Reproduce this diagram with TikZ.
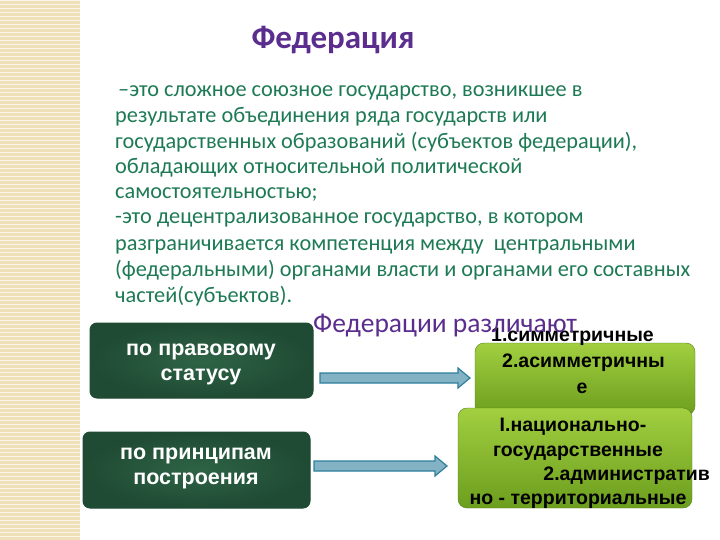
\documentclass[tikz,border=0pt]{standalone}
\usepackage{fontspec}
\setmainfont{Carlito}
\newfontfamily\arialf{Liberation Sans}
\usetikzlibrary{shapes.arrows}
\definecolor{ttl}{HTML}{5B2D8E}
\definecolor{bodyg}{HTML}{1E7A55}
\definecolor{dkg}{HTML}{1F4A33}
\definecolor{dkg2}{HTML}{2E6446}
\definecolor{lg1}{HTML}{A2CF40}
\definecolor{lg2}{HTML}{6C9E1E}
\definecolor{arr}{HTML}{2F7E9C}
\definecolor{strip}{HTML}{EFE0B8}
\tikzset{
 bodyline/.style={anchor=base west,text=bodyg,font=\fontsize{22.3}{24}\selectfont,inner sep=0},
 darkbox/.style={draw=dkg,rounded corners=7pt,inner color=dkg2,outer color=dkg,line width=1pt},
 lightbox/.style={rounded corners=9pt,top color=lg1,bottom color=lg2,draw=lg2!80!black},
 boxtext/.style={font=\arialf\bfseries\fontsize{21.5}{25}\selectfont,align=center},
 rtext/.style={text=black,font=\arialf\bfseries\fontsize{19.5}{22}\selectfont,inner sep=0}
}
\begin{document}
\begin{tikzpicture}[x=1pt,y=-1pt]
\useasboundingbox (0,0) rectangle (720,540);
\fill[white] (0,0) rectangle (720,540);
\fill[strip] (0,0) rectangle (80,540);
\foreach \yy in {0,4,...,540}{\draw[white,line width=0.6pt,opacity=0.7] (0,\yy) -- (80,\yy);}
\node[text=ttl,font=\bfseries\fontsize{33}{36}\selectfont] (title) at (333,40) {Федерация};
\node[bodyline] (l1) at (118,97) {–это сложное союзное государство, возникшее в};
\node[bodyline] (l2) at (115,123) {результате объединения ряда государств или};
\node[bodyline] (l3) at (115,149) {государственных образований (субъектов федерации),};
\node[bodyline] (l4) at (115,174) {обладающих относительной политической};
\node[bodyline] (l5) at (115,199) {самостоятельностью;};
\node[bodyline] (l6) at (115,224) {-это децентрализованное государство, в котором};
\node[bodyline] (l7) at (115,250) {разграничивается компетенция между\ \ центральными};
\node[bodyline] (l8) at (115,276) {(федеральными) органами власти и органами его составных};
\node[bodyline] (l9) at (115,302) {частей(субъектов).};
% boxes
\path[darkbox] (90,323) rectangle (313,398);
\node[boxtext,text=white] (b1) at (201,364) {по правовому\\статусу};
\path[darkbox] (83,432) rectangle (310,508);
\node[boxtext,text=white] (b2) at (196,468) {по принципам\\построения};
\path[lightbox] (475,343) rectangle (695,415);
\path[lightbox] (458,408) rectangle (692,508);
\node[rtext,anchor=base west] (t1) at (491,341) {1.симметричные};
\node[rtext,anchor=base west] (t2) at (502,367) {2.асимметричны};
\node[rtext,anchor=base] (t3) at (582,393) {е};
\node[rtext,anchor=base] (u1) at (573,431) {I.национально-};
\node[rtext,anchor=base] (u2) at (578,456) {государственные};
\node[rtext,anchor=base east] (u3) at (710,480) {2.административ};
\node[rtext,anchor=base] (u4) at (578,504) {но - территориальные};
\node[text=ttl,font=\fontsize{27.5}{30}\selectfont,anchor=base west,inner sep=0] (fd) at (313,332) {Федерации различают};
% arrows
\draw[fill=arr!60!white,draw=arr,line width=1.2pt] (320,373) -- (458,373) -- (458,368) -- (470,378) -- (458,388) -- (458,383) -- (320,383) -- cycle;
\draw[fill=arr!60!white,draw=arr,line width=1.2pt] (314,461) -- (435,461) -- (435,456) -- (447,466) -- (435,476) -- (435,471) -- (314,471) -- cycle;
\end{tikzpicture}
\end{document}
